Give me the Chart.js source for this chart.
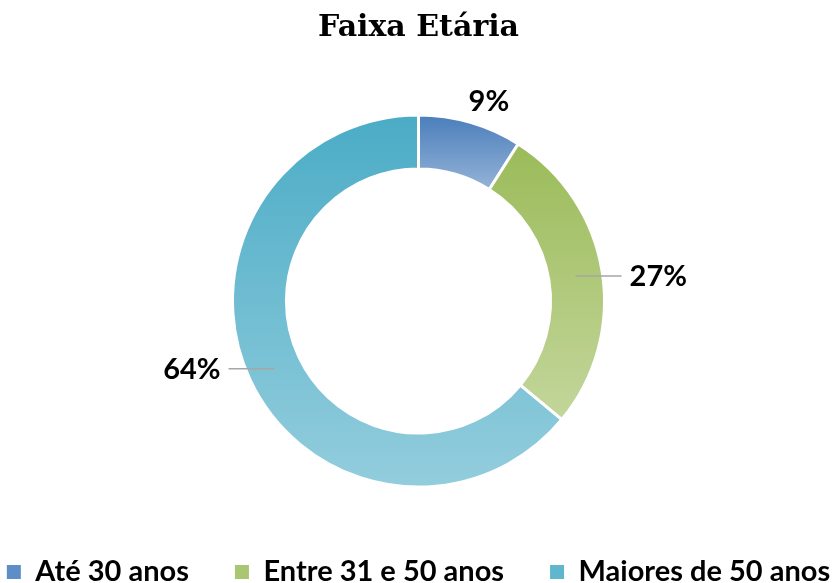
<!DOCTYPE html>
<html>
<head>
<meta charset="utf-8">
<script src="https://cdn.jsdelivr.net/npm/chart.js@4"></script>
<style>
    html, body { margin: 0; padding: 0; background: #fff; }
    #wrap { width: 837px; height: 583px; }
</style>
</head>
<body>
<div id="wrap"><canvas id="chart"></canvas></div>
<script>
const categories = ['Até 30 anos', 'Entre 31 e 50 anos', 'Maiores de 50 anos'];
const percents = [9, 27, 64];
const topColors = ['#4a7ebb', '#9bbb59', '#4bacc6'];
const bottomColors = ['#95b3d7', '#c3d69b', '#93cddd'];
const legendColors = ['#5e8ec8', '#a9c670', '#5fb6cd'];

// vertical gradient over the slice's own height, like the original
function sliceGradient(context) {
    const chart = context.chart;
    const area = chart.chartArea;
    const i = context.dataIndex;
    if (!area) return topColors[i];
    const cx = (area.left + area.right) / 2;
    const cy = (area.top + area.bottom) / 2;
    const total = percents.reduce((a, b) => a + b, 0);
    let start = -Math.PI / 2;
    for (let k = 0; k < i; k++) start += (percents[k] / total) * Math.PI * 2;
    const end = start + (percents[i] / total) * Math.PI * 2;
    let minY = Infinity;
    let maxY = -Infinity;
    for (let s = 0; s <= 60; s++) {
        const a = start + ((end - start) * s) / 60;
        [132, 186].forEach((r) => {
            const y = cy + r * Math.sin(a);
            minY = Math.min(minY, y);
            maxY = Math.max(maxY, y);
        });
    }
    const g = chart.ctx.createLinearGradient(0, minY, 0, maxY);
    g.addColorStop(0, topColors[i]);
    g.addColorStop(1, bottomColors[i]);
    return g;
}

const sliceLabels = {
    id: 'sliceLabels',
    afterDatasetsDraw(chart) {
        const ctx = chart.ctx;
        const arcs = chart.getDatasetMeta(0).data;
        ctx.save();
        ctx.font = 'bold 29px Lato';
        ctx.fillStyle = '#000';
        arcs.forEach((arc, i) => {
            const mid = (arc.startAngle + arc.endAngle) / 2;
            const cos = Math.cos(mid);
            const sin = Math.sin(mid);
            const text = percents[i] + '%';
            if (percents[i] >= 15) {
                const r = (arc.innerRadius + arc.outerRadius) / 2;
                const x0 = arc.x + r * cos;
                const y0 = arc.y + r * sin;
                const dir = cos >= 0 ? 1 : -1;
                const x1 = x0 + dir * 46;
                ctx.strokeStyle = '#a6a6a6';
                ctx.lineWidth = 1.5;
                ctx.beginPath();
                ctx.moveTo(x0, y0);
                ctx.lineTo(x1, y0);
                ctx.stroke();
                ctx.textAlign = dir > 0 ? 'left' : 'right';
                ctx.textBaseline = 'middle';
                ctx.fillText(text, x1 + dir * 8, y0 + 1);
            } else {
                const r = arc.outerRadius + 8;
                ctx.textAlign = cos >= 0 ? 'left' : 'right';
                ctx.textBaseline = sin < 0 ? 'bottom' : 'top';
                ctx.fillText(text, arc.x + r * cos - 4, arc.y + r * sin + 1);
            }
        });
        ctx.restore();
    },
};

function draw() {
    new Chart(document.getElementById('chart'), {
        type: 'doughnut',
        data: {
            labels: categories,
            datasets: [
                {
                    data: percents,
                    backgroundColor: sliceGradient,
                    borderColor: '#ffffff',
                    borderWidth: 3,
                    radius: 186,
                    cutout: '71%',
                },
            ],
        },
        options: {
            responsive: true,
            maintainAspectRatio: false,
            animation: false,
            layout: { padding: { left: -60, right: -60, bottom: -13.5 } },
            plugins: {
                title: {
                    display: true,
                    text: 'Faixa Etária',
                    color: '#000',
                    font: { family: 'DejaVu Serif', size: 30, weight: 'bold' },
                    padding: { top: 10, bottom: 44.5 },
                },
                legend: {
                    position: 'bottom',
                    labels: {
                        color: '#000',
                        font: { family: 'Lato', size: 29, weight: 'bold' },
                        boxWidth: 14,
                        boxHeight: 14,
                        padding: 46,
                        generateLabels: () =>
                            categories.map((c, i) => ({
                                text: c,
                                fillStyle: legendColors[i],
                                strokeStyle: legendColors[i],
                                lineWidth: 0,
                                index: i,
                                hidden: false,
                            })),
                    },
                },
                tooltip: { enabled: false },
            },
        },
        plugins: [sliceLabels],
    });
}

Promise.all([
    document.fonts.load('bold 29px Lato'),
    document.fonts.load('bold 30px "DejaVu Serif"'),
])
    .catch(() => {})
    .then(draw);
</script>
</body>
</html>
